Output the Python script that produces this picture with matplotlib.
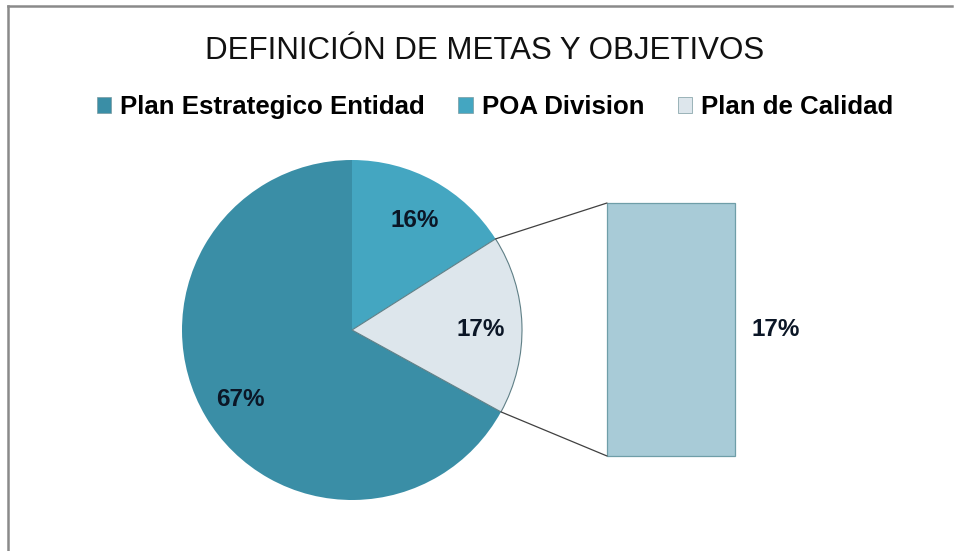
import matplotlib.pyplot as plt
import numpy as np
from matplotlib.patches import ConnectionPatch, Patch
from matplotlib.lines import Line2D

plt.rcParams["font.family"] = ["Liberation Sans", "DejaVu Sans"]

TITLE = "DEFINICIÓN DE METAS Y OBJETIVOS"
categories = ["Plan Estrategico Entidad", "POA Division", "Plan de Calidad"]
values = [67, 16, 17]
bar_value = 17  # "Plan de Calidad" expanded into the bar
colors = ["#3a8ea6", "#44a6c1", "#dde6ec"]
bar_color = "#a8cbd7"
label_color = "#0b1626"

W, H = 961, 551
fig = plt.figure(figsize=(W / 100, H / 100), dpi=100)
fig.patch.set_facecolor("white")

# chart frame (top and left edges visible)
fig.add_artist(Line2D([8 / W, 8 / W], [0, 1 - 6 / H], color="#8a8a8a", lw=1.8))
fig.add_artist(Line2D([8 / W, 952 / W], [1 - 6 / H, 1 - 6 / H], color="#8a8a8a", lw=1.8))

fig.text(485 / W, 1 - 51 / H, TITLE, ha="center", va="center", fontsize=22.5, color="#111111")

# pie
cx, cy, r = 352, 330, 170
ax = fig.add_axes([(cx - r) / W, 1 - (cy + r) / H, 2 * r / W, 2 * r / H])
start = 90 + 360 * values[0] / sum(values)
wedges, texts, autotexts = ax.pie(
    values, colors=colors, startangle=start, counterclock=False,
    autopct="%1.0f%%", pctdistance=0.76, radius=1,
    wedgeprops=dict(linewidth=0),
    textprops=dict(fontsize=17.5, fontweight="bold", color=label_color),
)
wedges[2].set_edgecolor("#5f7f86")
wedges[2].set_linewidth(0.8)
for t in autotexts:
    x, y = t.get_position()
    t.set_position((x, y - 0.02))
ax.set_xlim(-1, 1)
ax.set_ylim(-1, 1)
ax.set_aspect("equal")
ax.axis("off")

# bar of pie
bx0, bx1, by0, by1 = 607, 735, 203, 456
bax = fig.add_axes([bx0 / W, 1 - by1 / H, (bx1 - bx0) / W, (by1 - by0) / H])
bars = bax.bar([0], [bar_value], width=1, color=bar_color, edgecolor="#6f9ea8", linewidth=0.9)
for b in bars:
    b.set_clip_on(False)
bax.set_xlim(-0.5, 0.5)
bax.set_ylim(0, bar_value)
bax.axis("off")
bax.text(0.82, bar_value / 2, f"{bar_value}%", ha="center", va="center",
         fontsize=17.5, fontweight="bold", color=label_color, clip_on=False)

# connector lines
w = wedges[2]
for ang, yb in [(w.theta2, bar_value), (w.theta1, 0)]:
    p = (np.cos(np.radians(ang)), np.sin(np.radians(ang)))
    con = ConnectionPatch(xyA=p, coordsA=ax.transData, xyB=(-0.5, yb), coordsB=bax.transData,
                          color="#404040", lw=0.9)
    fig.add_artist(con)

handles = [Patch(facecolor=c, edgecolor="#7a9aa0", linewidth=0.5) for c in colors]
fig.legend(handles, categories, loc="center", bbox_to_anchor=(495 / W, 1 - 107 / H), ncol=3,
           frameon=False, handlelength=0.55, handleheight=0.55, handletextpad=0.35,
           columnspacing=1.3, prop=dict(size=18.6, weight="bold"))

fig.savefig("out.png", dpi=100, facecolor="white")
